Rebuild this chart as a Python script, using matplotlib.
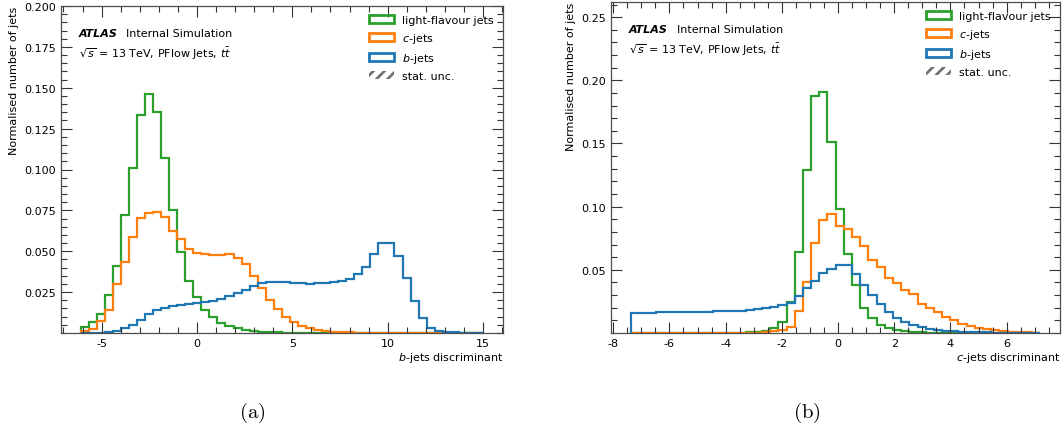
import numpy as np
import matplotlib
matplotlib.use("Agg")
from matplotlib import pyplot as plt
from matplotlib.patches import Patch
from matplotlib.ticker import MultipleLocator, FixedLocator

plt.rcParams["font.family"] = ["DejaVu Sans"]
plt.rcParams["axes.unicode_minus"] = False
plt.rcParams["mathtext.fontset"] = "dejavusans"
plt.rcParams["hatch.linewidth"] = 2.0

# --- (a) b-jets discriminant, 50 bins ---
b_disc_range = (-6.1, 15.0)
b_disc_light = [0.0035, 0.0069, 0.0116, 0.0231, 0.0407, 0.0719, 0.1010, 0.1332, 0.1460, 0.1349,
                0.1071, 0.0752, 0.0498, 0.0318, 0.0220, 0.0140, 0.0096, 0.0062, 0.0045, 0.0029,
                0.0018, 0.0012, 0.0008, 0.0005, 0.0004, 0.0003, 0.0002, 0.0002, 0.0001, 0.0001,
                0.0001, 0.0001, 0.0001, 0.0001, 0.0001, 0.0, 0.0, 0.0, 0.0, 0.0,
                0.0, 0.0, 0.0, 0.0, 0.0, 0.0, 0.0, 0.0, 0.0, 0.0]
b_disc_c = [0.0012, 0.0027, 0.0075, 0.0140, 0.0297, 0.0435, 0.0587, 0.0701, 0.0733, 0.0740,
            0.0711, 0.0621, 0.0576, 0.0514, 0.0492, 0.0481, 0.0479, 0.0479, 0.0483, 0.0459,
            0.0425, 0.0347, 0.0277, 0.0203, 0.0145, 0.0096, 0.0069, 0.0045, 0.0029, 0.0018,
            0.0012, 0.0008, 0.0006, 0.0004, 0.0003, 0.0003, 0.0002, 0.0002, 0.0002, 0.0001,
            0.0001, 0.0001, 0.0001, 0.0001, 0.0001, 0.0, 0.0, 0.0, 0.0, 0.0]
b_disc_b = [0.0, 0.0001, 0.0002, 0.0004, 0.0010, 0.0029, 0.0049, 0.0082, 0.0114, 0.0140,
            0.0155, 0.0165, 0.0172, 0.0180, 0.0186, 0.0190, 0.0198, 0.0208, 0.0225, 0.0245,
            0.0266, 0.0286, 0.0307, 0.0310, 0.0310, 0.0310, 0.0308, 0.0305, 0.0299, 0.0304,
            0.0305, 0.0310, 0.0318, 0.0331, 0.0359, 0.0405, 0.0484, 0.0551, 0.0551, 0.0474,
            0.0337, 0.0198, 0.0090, 0.0033, 0.0014, 0.0007, 0.0004, 0.0002, 0.0001, 0.0001]

# --- (b) c-jets discriminant, 50 bins ---
c_disc_range = (-7.37, 7.2)
c_disc_light = [0.0, 0.0, 0.0, 0.0, 0.0, 0.0, 0.0, 0.0, 0.0, 0.0,
                0.0, 0.0, 0.0001, 0.0002, 0.0004, 0.0008, 0.0015, 0.0038, 0.0089, 0.0245,
                0.0645, 0.1293, 0.1873, 0.1911, 0.1515, 0.0979, 0.0629, 0.0376, 0.0195, 0.0120,
                0.0066, 0.0036, 0.0021, 0.0013, 0.0008, 0.0005, 0.0003, 0.0002, 0.0001, 0.0001,
                0.0, 0.0, 0.0, 0.0, 0.0, 0.0, 0.0, 0.0, 0.0, 0.0]
c_disc_c = [0.0, 0.0, 0.0, 0.0, 0.0, 0.0, 0.0, 0.0, 0.0, 0.0,
            0.0, 0.0, 0.0, 0.0, 0.0001, 0.0003, 0.0006, 0.0012, 0.0021, 0.0050,
            0.0173, 0.0400, 0.0713, 0.0897, 0.0945, 0.0846, 0.0820, 0.0756, 0.0686, 0.0581,
            0.0520, 0.0437, 0.0392, 0.0342, 0.0307, 0.0233, 0.0195, 0.0170, 0.0128, 0.0100,
            0.0073, 0.0055, 0.0041, 0.0030, 0.0020, 0.0015, 0.0011, 0.0007, 0.0004, 0.0002]
c_disc_b = [0.0160, 0.0161, 0.0162, 0.0163, 0.0164, 0.0165, 0.0166, 0.0167, 0.0168, 0.0170,
            0.0171, 0.0173, 0.0175, 0.0178, 0.0182, 0.0188, 0.0196, 0.0208, 0.0222, 0.0240,
            0.0290, 0.0355, 0.0412, 0.0471, 0.0505, 0.0540, 0.0535, 0.0467, 0.0377, 0.0303,
            0.0229, 0.0166, 0.0119, 0.0088, 0.0062, 0.0045, 0.0032, 0.0022, 0.0016, 0.0012,
            0.0009, 0.0007, 0.0005, 0.0004, 0.0003, 0.0002, 0.0002, 0.0001, 0.0001, 0.0001]

flavour_labels = ["light-flavour jets", "$c$-jets", "$b$-jets"]
flavour_colors = ["#2ca02c", "#ff7f0e", "#1f77b4"]

W, H = 1062, 427
fig = plt.figure(figsize=(W / 100, H / 100), dpi=100)
ax1 = fig.add_axes([61 / W, 1 - 334 / H, 442 / W, 327 / H])
ax2 = fig.add_axes([611 / W, 1 - 334 / H, 449 / W, 331 / H])


def draw_panel(ax, rng, series, xlabel, xlim, ylim, xmaj, xmin, ymaj, ymin, yfmt, ylab_x):
    edges = np.linspace(rng[0], rng[1], len(series[0]) + 1)
    for vals, col in zip(series, flavour_colors):
        ax.stairs(vals, edges, color=col, lw=1.6, baseline=0)

    ax.set_xlim(*xlim)
    ax.set_ylim(*ylim)
    ax.xaxis.set_major_locator(MultipleLocator(xmaj))
    ax.xaxis.set_minor_locator(MultipleLocator(xmin))
    yt = np.arange(ymaj, ylim[1] + 1e-9, ymaj)
    ax.yaxis.set_major_locator(FixedLocator(yt))
    ax.set_yticklabels([yfmt.format(v) for v in yt])
    ax.yaxis.set_minor_locator(MultipleLocator(ymin))
    ax.xaxis.set_major_formatter(plt.FuncFormatter(lambda v, p: f"{v:g}"))

    ax.tick_params(which="both", direction="in", top=True, right=True,
                   labelsize=8, color="0.2", width=0.8)
    ax.tick_params(which="major", length=8)
    ax.tick_params(which="minor", length=4)
    for s in ax.spines.values():
        s.set_color("0.3")
        s.set_linewidth(0.9)

    ax.set_xlabel(xlabel, fontsize=8, ha="right")
    ax.xaxis.set_label_coords(1.0, -0.052)
    ax.set_ylabel("Normalised number of jets", fontsize=8, ha="right")
    ax.yaxis.set_label_coords(ylab_x, 1.0)

    ax.text(0.040, 0.918, "ATLAS", transform=ax.transAxes, fontsize=8,
            fontweight="bold", fontstyle="italic", va="center")
    ax.text(0.147, 0.918, "Internal Simulation", transform=ax.transAxes,
            fontsize=8, va="center")
    ax.text(0.040, 0.858, r"$\sqrt{s}$ = 13 TeV, PFlow Jets, $t\bar{t}$",
            transform=ax.transAxes, fontsize=8, va="center")

    handles = [Patch(facecolor="none", edgecolor=c, lw=2) for c in flavour_colors]
    handles.append(Patch(facecolor="none", edgecolor="0.45", hatch="///", lw=0))
    ax.legend(handles, flavour_labels + ["stat. unc."], loc="upper right",
              frameon=False, fontsize=8, handlelength=2.2, handleheight=0.75,
              handletextpad=0.8, labelspacing=0.55, borderaxespad=0.4)


draw_panel(ax1, b_disc_range, [b_disc_light, b_disc_c, b_disc_b], "$b$-jets discriminant",
           (-7.13, 16.05), (0, 0.2), 5, 1, 0.025, 0.005, "{:.3f}", -0.095)
draw_panel(ax2, c_disc_range, [c_disc_light, c_disc_c, c_disc_b], "$c$-jets discriminant",
           (-8.08, 7.9), (0, 0.262), 2, 0.5, 0.05, 0.01, "{:.2f}", -0.078)

fig.text(252 / W, 1 - 413 / H, r"$\mathrm{(a)}$", fontsize=15, math_fontfamily="cm",
         ha="center", va="center")
fig.text(807 / W, 1 - 413 / H, r"$\mathrm{(b)}$", fontsize=15, math_fontfamily="cm",
         ha="center", va="center")

fig.savefig("out.png", dpi=100)
